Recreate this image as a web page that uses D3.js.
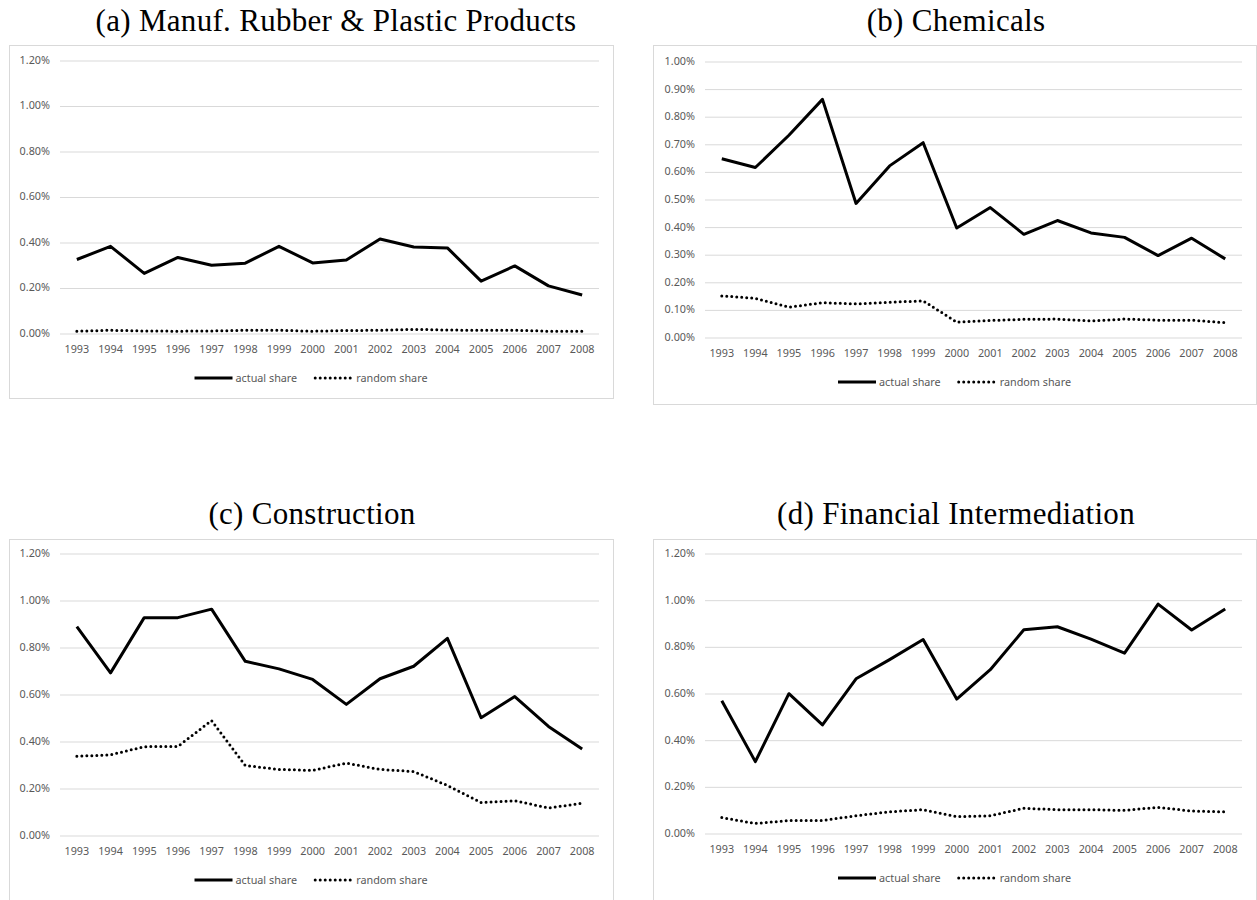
<!DOCTYPE html>
<html>
<head>
<meta charset="utf-8">
<script src="https://cdn.jsdelivr.net/npm/d3@7"></script>
<style>
  body { margin: 0; background: #fff; }
  .title { font-family: "Liberation Serif", serif; font-size: 31px; letter-spacing: 0.3px; fill: #000; }
  .frame { fill: none; stroke: #d9d9d9; stroke-width: 1; }
  .axis text { font-family: "Noto Sans", sans-serif; font-size: 10.8px; fill: #595959; }
  .axis .domain { display: none; }
  .yaxis line { stroke: #d9d9d9; }
  .legend text { font-family: "Noto Sans", sans-serif; font-size: 10.8px; fill: #595959; }
  .actual { fill: none; stroke: #000; stroke-width: 3; stroke-linejoin: round; }
  .random { fill: none; stroke: #000; stroke-width: 3; stroke-linecap: round; stroke-dasharray: 0 5; }
</style>
</head>
<body>
<svg id="chart" width="1257" height="900"></svg>
<script>
const years = ['1993', '1994', '1995', '1996', '1997', '1998', '1999', '2000',
  '2001', '2002', '2003', '2004', '2005', '2006', '2007', '2008']

const ticksTo120 = [0, 0.2, 0.4, 0.6, 0.8, 1.0, 1.2]
const ticksTo100 = [0, 0.1, 0.2, 0.3, 0.4, 0.5, 0.6, 0.7, 0.8, 0.9, 1.0]

// values in percent
const rubberActual = [0.323, 0.381, 0.262, 0.332, 0.298, 0.307, 0.381, 0.308, 0.321, 0.413, 0.378, 0.374, 0.228, 0.295, 0.207, 0.167]
const rubberRandom = [0.008, 0.012, 0.009, 0.008, 0.009, 0.012, 0.012, 0.008, 0.011, 0.012, 0.016, 0.013, 0.012, 0.012, 0.008, 0.008]

const chemActual = [0.646, 0.614, 0.731, 0.861, 0.484, 0.620, 0.704, 0.395, 0.469, 0.372, 0.422, 0.377, 0.361, 0.295, 0.358, 0.283]
const chemRandom = [0.149, 0.140, 0.108, 0.124, 0.120, 0.126, 0.131, 0.054, 0.060, 0.064, 0.065, 0.058, 0.065, 0.061, 0.061, 0.052]

const constrActual = [0.887, 0.690, 0.925, 0.925, 0.961, 0.739, 0.707, 0.662, 0.556, 0.665, 0.718, 0.837, 0.499, 0.589, 0.462, 0.366]
const constrRandom = [0.335, 0.341, 0.376, 0.377, 0.487, 0.296, 0.279, 0.275, 0.306, 0.279, 0.270, 0.211, 0.138, 0.146, 0.115, 0.135]

const finActual = [0.567, 0.306, 0.597, 0.463, 0.661, 0.743, 0.829, 0.574, 0.700, 0.871, 0.884, 0.831, 0.771, 0.981, 0.870, 0.960]
const finRandom = [0.066, 0.041, 0.053, 0.054, 0.074, 0.091, 0.100, 0.070, 0.074, 0.106, 0.100, 0.100, 0.097, 0.110, 0.094, 0.091]

const seriesNames = ['actual share', 'random share']

const panels = [
  { title: '(a) Manuf. Rubber & Plastic Products', titleX: 336, titleY: 31,
    frame: { x: 9, y: 45, w: 604, h: 353 }, plot: { left: 60, right: 599, top: 60, bottom: 333 },
    yMax: 1.2, ticks: ticksTo120, actual: rubberActual, random: rubberRandom, legendY: 378 },
  { title: '(b) Chemicals', titleX: 956, titleY: 31,
    frame: { x: 653, y: 45, w: 603, h: 359 }, plot: { left: 705, right: 1242, top: 61, bottom: 337 },
    yMax: 1.0, ticks: ticksTo100, actual: chemActual, random: chemRandom, legendY: 382 },
  { title: '(c) Construction', titleX: 312, titleY: 524,
    frame: { x: 9, y: 539, w: 604, h: 370 }, plot: { left: 60, right: 599, top: 553, bottom: 835 },
    yMax: 1.2, ticks: ticksTo120, actual: constrActual, random: constrRandom, legendY: 880 },
  { title: '(d) Financial Intermediation', titleX: 956, titleY: 524,
    frame: { x: 653, y: 539, w: 603, h: 370 }, plot: { left: 705, right: 1242, top: 553, bottom: 833 },
    yMax: 1.2, ticks: ticksTo120, actual: finActual, random: finRandom, legendY: 878 }
]

const svg = d3.select('#chart')

function drawPanel (p) {
  const g = svg.append('g')

  g.append('text').classed('title', true)
    .attr('x', p.titleX).attr('y', p.titleY)
    .attr('text-anchor', 'middle')
    .text(p.title)

  g.append('rect').classed('frame', true)
    .attr('x', p.frame.x + 0.5).attr('y', p.frame.y + 0.5)
    .attr('width', p.frame.w).attr('height', p.frame.h)

  const x = d3.scaleBand().domain(years).range([p.plot.left, p.plot.right])
  const y = d3.scaleLinear().domain([0, p.yMax]).range([p.plot.bottom, p.plot.top])
  const width = p.plot.right - p.plot.left

  const yAxis = d3.axisLeft(y)
    .tickValues(p.ticks)
    .tickSize(-width)
    .tickPadding(10)
    .tickFormat(d => d.toFixed(2) + '%')
  g.append('g').attr('class', 'axis yaxis')
    .attr('transform', `translate(${p.plot.left},0)`)
    .call(yAxis)
  g.selectAll('.yaxis .tick line').attr('transform', 'translate(0,0.5)')

  const xAxis = d3.axisBottom(x).tickSize(0).tickPadding(12)
  g.append('g').attr('class', 'axis xaxis')
    .attr('transform', `translate(0,${p.plot.bottom})`)
    .call(xAxis)

  const line = d3.line()
    .x((d, i) => x(years[i]) + x.bandwidth() / 2)
    .y(d => y(d))

  g.append('path').classed('random', true).datum(p.random).attr('d', line)
  g.append('path').classed('actual', true).datum(p.actual).attr('d', line)

  // legend, centred under the frame
  const cx = p.frame.x + p.frame.w / 2
  const leg = g.append('g').classed('legend', true)
  const symW = 38
  const items = leg.selectAll('g').data(seriesNames).join('g')
  items.append('line')
    .attr('class', (d, i) => i === 0 ? 'actual' : 'random')
    .attr('x1', 0).attr('x2', symW).attr('y1', 0).attr('y2', 0)
  items.append('text')
    .attr('x', symW + 3).attr('dy', '0.35em')
    .text(d => d)
  const widths = []
  items.each(function () {
    widths.push(this.getBBox().width)
  })
  const gap = 18
  const total = d3.sum(widths) + gap
  let offset = cx - total / 2
  items.attr('transform', (d, i) => {
    const t = `translate(${offset},${p.legendY})`
    offset += widths[i] + gap
    return t
  })
}

panels.forEach(drawPanel)
</script>
</body>
</html>
